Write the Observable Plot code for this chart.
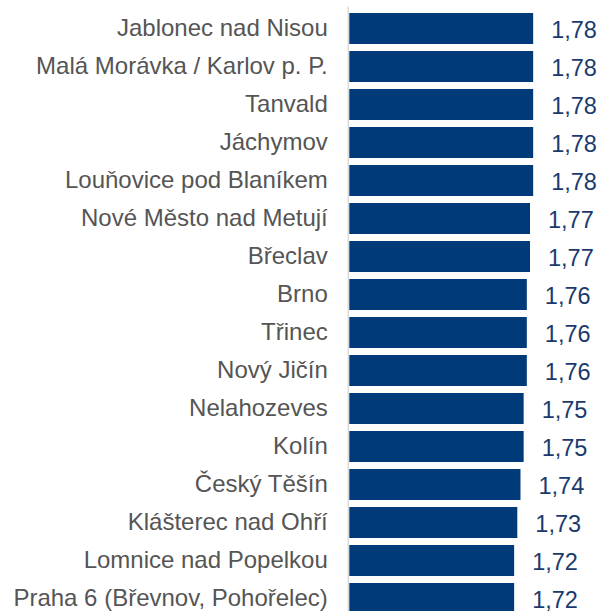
<!DOCTYPE html>
<html>
<head>
<meta charset="utf-8">
<script src="https://cdn.jsdelivr.net/npm/d3@7"></script>
<script src="https://cdn.jsdelivr.net/npm/@observablehq/plot@0.6"></script>
<style>
  html, body { margin: 0; padding: 0; background: #fff; overflow: hidden; }
</style>
</head>
<body>
<div id="chart"></div>
<script>
const names = [
  "Jablonec nad Nisou",
  "Malá Morávka / Karlov p. P.",
  "Tanvald",
  "Jáchymov",
  "Louňovice pod Blaníkem",
  "Nové Město nad Metují",
  "Břeclav",
  "Brno",
  "Třinec",
  "Nový Jičín",
  "Nelahozeves",
  "Kolín",
  "Český Těšín",
  "Klášterec nad Ohří",
  "Lomnice nad Popelkou",
  "Praha 6 (Břevnov, Pohořelec)"
];
const values = [1.78, 1.78, 1.78, 1.78, 1.78, 1.77, 1.77, 1.76, 1.76, 1.76, 1.75, 1.75, 1.74, 1.73, 1.72, 1.72];
const xMin = 1.2;
const xMax = 2.0;

const data = names.map((name, i) => ({name, value: values[i]}));
const fmt = v => v.toFixed(2).replace(".", ",");

const chart = Plot.plot({
  width: 600,
  height: 611,
  marginTop: 6.65,
  marginBottom: 0,
  marginLeft: 349,
  marginRight: 0,
  style: {fontFamily: "'Liberation Sans', Arial, sans-serif", background: "white"},
  x: {domain: [xMin, xMax], range: [349.3, 349.3 + (xMax - xMin) * 317], axis: null},
  y: {domain: names, range: [6.65, 619.5], paddingInner: 0.19, paddingOuter: 0.095, axis: null},
  marks: [
    Plot.ruleX([xMin], {stroke: "#d9d9d9", strokeWidth: 1.5, dx: -1.5}),
    Plot.barX(data, {y: "name", x1: xMin, x2: "value", fill: "#003a78"}),
    Plot.text(names, {y: d => d, x: xMin, dx: -22, dy: -1, textAnchor: "end", fontSize: 24, fill: "#555555"}),
    Plot.text(data, {y: "name", x: "value", dx: 17.5, dy: 1.5, textAnchor: "start", text: d => fmt(d.value), fontSize: 23.5, fill: "#1a3a6e"})
  ]
});
document.getElementById("chart").appendChild(chart);
</script>
</body>
</html>
